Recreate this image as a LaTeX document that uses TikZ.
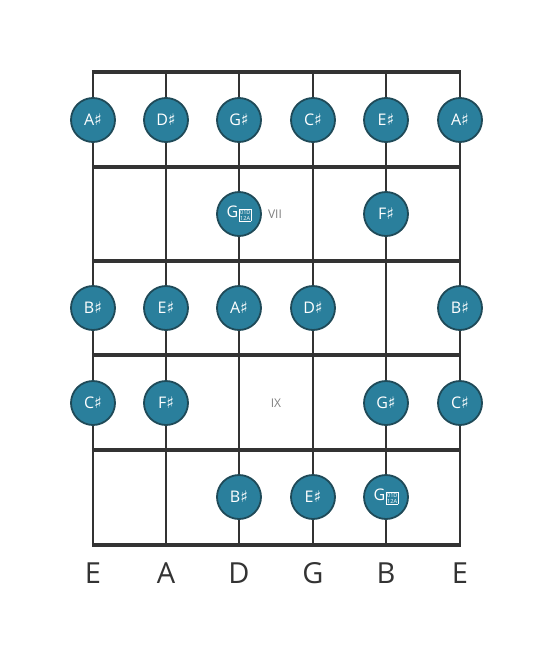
\documentclass[tikz,border=0pt]{standalone}
\usepackage{fontspec}
\setmainfont{Open Sans}
\newfontfamily\symf{DejaVu Sans}
\definecolor{wire}{HTML}{333333}
\definecolor{notefill}{HTML}{2A7F9C}
\definecolor{noteedge}{HTML}{1F4A58}
\definecolor{markgray}{HTML}{808080}
\newcommand{\shp}{{\symf\char"266F}}
\newcommand{\dsh}{\hspace{0.5pt}\raisebox{-0.2ex}{\setlength{\fboxsep}{0.6pt}\setlength{\fboxrule}{0.6pt}\fbox{\parbox[c]{10pt}{\centering\fontsize{5.6pt}{6pt}\selectfont 01D\\12A}}}}
\begin{document}
\begin{tikzpicture}[x=1pt,y=-1pt,
  stringline/.style={draw=wire,line width=2.5pt},
  fretline/.style={draw=wire,line width=4.5pt},
  nutline/.style={draw=wire,line width=4.5pt},
  note/.style={circle,fill=notefill,draw=noteedge,line width=1.8pt,minimum size=44pt,inner sep=0pt,text=white,font=\fontsize{16pt}{18pt}\selectfont},
  fretmark/.style={text=markgray,font=\fontsize{12pt}{14pt}\selectfont},
  strlabel/.style={text=wire,font=\fontsize{29pt}{32pt}\selectfont}]
\useasboundingbox (0,0) rectangle (553,656);
% strings
\foreach \i/\x in {1/93,2/166,3/239,4/313,5/386,6/460}{
  \coordinate (s\i t) at (\x,72);
  \coordinate (s\i b) at (\x,545);
  \draw[stringline] (s\i t) -- (s\i b);
}
% frets
\foreach \j/\y in {1/167,2/261,3/355,4/450,5/545}{
  \coordinate (f\j l) at (93,\y);
  \coordinate (f\j r) at (460,\y);
  \draw[fretline] ([xshift=-1.25pt]f\j l) -- ([xshift=1.25pt]f\j r);
}
\coordinate (nl) at (91.75,72);
\coordinate (nr) at (461.25,72);
\draw[nutline] (nl) -- (nr);
% fret markers
\node[fretmark] (m7) at (275,214) {VII};
\node[fretmark] (m9) at (276,403) {IX};
% notes row 0
\node[note] (n01) at (93,120) {A\shp};
\node[note] (n02) at (166,120) {D\shp};
\node[note] (n03) at (239,120) {G\shp};
\node[note] (n04) at (313,120) {C\shp};
\node[note] (n05) at (386,120) {E\shp};
\node[note] (n06) at (460,120) {A\shp};
% row 1
\node[note] (n13) at (239,214) {G\dsh};
\node[note] (n15) at (386,214) {F\shp};
% row 2
\node[note] (n21) at (93,308) {B\shp};
\node[note] (n22) at (166,308) {E\shp};
\node[note] (n23) at (239,308) {A\shp};
\node[note] (n24) at (313,308) {D\shp};
\node[note] (n26) at (460,308) {B\shp};
% row 3
\node[note] (n31) at (93,403) {C\shp};
\node[note] (n32) at (166,403) {F\shp};
\node[note] (n35) at (386,403) {G\shp};
\node[note] (n36) at (460,403) {C\shp};
% row 4
\node[note] (n43) at (239,497) {B\shp};
\node[note] (n44) at (313,497) {E\shp};
\node[note] (n45) at (386,497) {G\dsh};
% string labels
\node[strlabel] (l1) at (93,573) {E};
\node[strlabel] (l2) at (166,573) {A};
\node[strlabel] (l3) at (239,573) {D};
\node[strlabel] (l4) at (313,573) {G};
\node[strlabel] (l5) at (386,573) {B};
\node[strlabel] (l6) at (460,573) {E};
\end{tikzpicture}
\end{document}
